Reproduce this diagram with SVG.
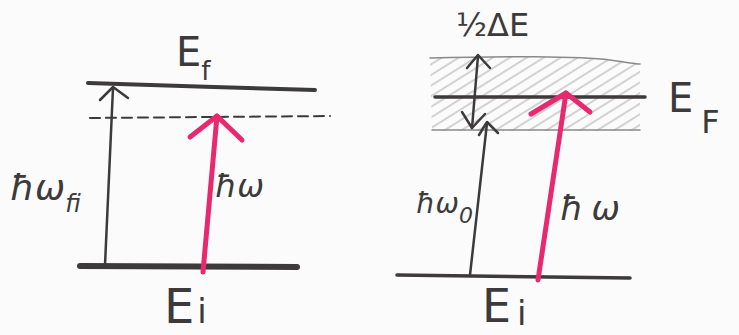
<svg xmlns="http://www.w3.org/2000/svg" width="739" height="335" viewBox="0 0 739 335">
<style>
.lvl{fill:none;stroke:#3c3a3a;stroke-linecap:round;stroke-linejoin:round}
.thin{fill:none;stroke:#8a8a8a;stroke-width:1.5;stroke-linecap:round}
.ar{fill:none;stroke:#3c3a3a;stroke-width:2.5;stroke-linecap:round;stroke-linejoin:round}
.pk{fill:none;stroke:#e8286f;stroke-width:5;stroke-linecap:round;stroke-linejoin:round}
.t{font-family:"DejaVu Sans",sans-serif;fill:#3c3a3a}
</style>
<defs>
<pattern id="hatch" width="9" height="9" patternUnits="userSpaceOnUse" patternTransform="rotate(-32)">
<line x1="0" y1="4" x2="9" y2="4" stroke="#b0b0b0" stroke-width="1.1"/>
</pattern>
<clipPath id="band"><path d="M430,58 C500,56 580,56 610,60 C625,62 635,64 640,64 L640,131 L432,131 Z"/></clipPath>
</defs>
<rect width="739" height="335" fill="#fbfbfb"/>

<g id="left-levels">
<path class="lvl" d="M88,83 C150,85 250,88 315,90" stroke-width="4"/>
<path class="lvl" d="M90,118 L330,116" stroke-width="2" stroke-dasharray="10 6"/>
<path class="lvl" d="M80,266 L297,267" stroke-width="6"/>
</g>

<g id="right-levels">
<rect x="428" y="55" width="215" height="78" fill="url(#hatch)" clip-path="url(#band)"/>
<path class="thin" d="M430,58 C500,56 580,56 610,60 C625,62 635,64 640,64"/>
<path class="thin" d="M432,130 L640,130"/>
<path class="lvl" d="M435,97 L645,97" stroke-width="3.5"/>
<path class="lvl" d="M397,275 L630,278" stroke-width="3.5"/>
</g>

<g id="connectors">
<line class="ar" x1="105" y1="265" x2="113" y2="88"/>
<polyline class="ar" points="100,100 113,87 128,98"/>
<line class="pk" x1="203" y1="272" x2="217" y2="116"/>
<polyline class="pk" points="190,137 217,116 242,140"/>
<line class="ar" x1="478" y1="56" x2="472" y2="128"/>
<polyline class="ar" points="467,68 478,55 490,68"/>
<polyline class="ar" points="462,112 472,128 485,114"/>
<line class="ar" x1="470" y1="275" x2="487" y2="123"/>
<polyline class="ar" points="479,135 487,122 498,133"/>
<line class="pk" x1="538" y1="280" x2="566" y2="93"/>
<polyline class="pk" points="531,114 566,93 590,112"/>
</g>

<g id="label-Ef-left"><text class="t" x="176" y="66" font-size="40">E<tspan font-size="26" dy="14">f</tspan></text></g>
<g id="label-hwfi"><text class="t" x="10" y="200" font-size="36" font-style="italic">ħω<tspan font-size="24" dy="12">fi</tspan></text></g>
<g id="label-hw-left"><text class="t" x="215" y="197" font-size="32" font-style="italic">ħω</text></g>
<g id="label-Ei-left"><text class="t" x="164" y="323" font-size="48">E<tspan font-size="34" dx="3">i</tspan></text></g>

<g id="label-halfdE"><text class="t" x="456" y="36" font-size="32">½ΔE</text></g>
<g id="label-EF-right"><text class="t" x="668" y="112" font-size="40">E<tspan font-size="32" dx="8" dy="21">F</tspan></text></g>
<g id="label-hw0"><text class="t" x="416" y="213" font-size="28" font-style="italic">ħω<tspan font-size="22" dy="10">0</tspan></text></g>
<g id="label-hw-right"><text class="t" x="560" y="220" font-size="34" font-style="italic" letter-spacing="8">ħω</text></g>
<g id="label-Ei-right"><text class="t" x="482" y="322" font-size="46">E<tspan font-size="34" dx="6" dy="3">i</tspan></text></g>
</svg>
